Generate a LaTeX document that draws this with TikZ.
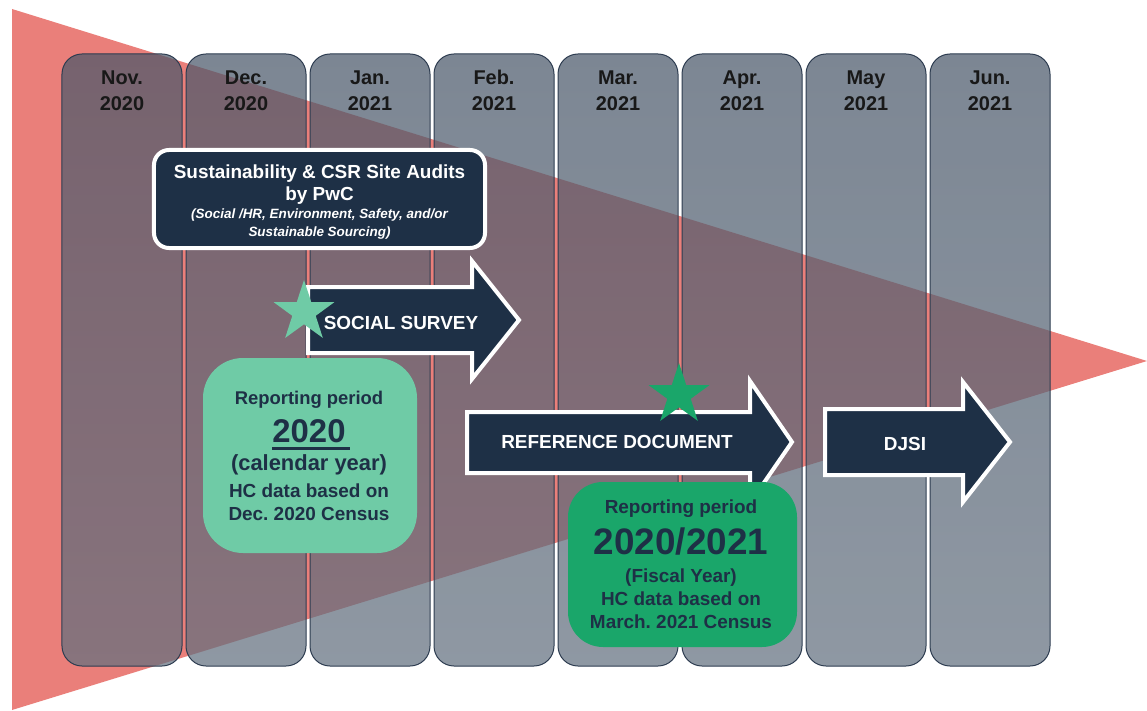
\documentclass[tikz,border=0pt]{standalone}
\usepackage{fontspec}
\setmainfont{Liberation Sans}
\usetikzlibrary{shapes.geometric}
\definecolor{tri}{RGB}{234,127,122}
\definecolor{coltop}{RGB}{74,88,106}
\definecolor{colbot}{RGB}{99,112,127}
\definecolor{colline}{RGB}{45,60,80}
\definecolor{navy}{RGB}{30,48,70}
\definecolor{lgreen}{RGB}{111,203,166}
\definecolor{dgreen}{RGB}{26,166,106}
\definecolor{monthtxt}{RGB}{24,24,24}
\newcommand\myfs[1]{\fontsize{#1}{#1}\selectfont}
\frenchspacing
\begin{document}
\begin{tikzpicture}[x=1bp,y=-1bp,
  colbox/.style={rounded corners=20bp, top color=coltop, bottom color=colbot, fill opacity=0.72, draw=colline, line width=1bp, minimum width=120bp, minimum height=612bp, inner sep=0},
  month/.style={anchor=base, text=monthtxt, font=\bfseries\myfs{20}, inner sep=0},
  darkbox/.style={rounded corners=15bp, fill=navy, draw=white, line width=4bp, inner sep=0},
  arrowbody/.style={fill=navy, draw=white, line width=4bp, line join=miter},
  wtxt/.style={anchor=base, text=white, inner sep=0},
  gtxt/.style={anchor=base, text=navy, inner sep=0},
  greenbox/.style={inner sep=0},
  starmark/.style={star, star points=5, star point ratio=2.6, minimum size=64bp, inner sep=0}
]
\useasboundingbox (0,0) rectangle (1147,711);
% red triangle
\fill[tri] (12,9) -- (12,710) -- (1147,361) -- cycle;
% month columns
\foreach \i/\m/\yr in {0/Nov./2020,1/Dec./2020,2/Jan./2021,3/Feb./2021,4/Mar./2021,5/Apr./2021,6/May/2021,7/Jun./2021}{
  \node[colbox] (c\i) at (122+124*\i,360) {};
  \node[month] (ma\i) at (122+124*\i,85) {\m};
  \node[month] (mb\i) at (122+124*\i,111) {\yr};
}
% audit box
\node[darkbox, minimum width=331bp, minimum height=98bp] (audit) at (319.5,199) {};
\node[wtxt, font=\bfseries\myfs{19}] (au1) at (319.5,179) {Sustainability \& CSR Site Audits};
\node[wtxt, font=\bfseries\myfs{19}] (au2) at (319.5,201) {by PwC};
\node[wtxt, font=\bfseries\itshape\myfs{13.5}] (au3) at (319.5,219) {(Social /HR, Environment, Safety, and/or};
\node[wtxt, font=\bfseries\itshape\myfs{13.5}] (au4) at (319.5,236) {Sustainable Sourcing)};
% social survey arrow
\draw[arrowbody] (308,287) -- (472,287) -- (472,261) -- (519,320) -- (472,379) -- (472,353) -- (308,353) -- cycle;
\node[wtxt, font=\bfseries\myfs{19}] (social) at (401,329) {SOCIAL SURVEY};
\node[starmark, fill=lgreen] (s1) at (304,312) {};
% reference document arrow
\draw[arrowbody] (467,412) -- (750,412) -- (750,381) -- (792,442) -- (750,503) -- (750,473) -- (467,473) -- cycle;
\node[wtxt, font=\bfseries\myfs{19}] (refdoc) at (617,448) {REFERENCE DOCUMENT};
\node[starmark, fill=dgreen] (s2) at (679,395) {};
% DJSI arrow
\draw[arrowbody] (825,409) -- (963,409) -- (963,382) -- (1010,442) -- (963,502) -- (963,475) -- (825,475) -- cycle;
\node[wtxt, font=\bfseries\myfs{19}] (djsi) at (905,450) {DJSI};
% reporting period 2020
\node[greenbox, fill=lgreen, rounded corners=40bp, minimum width=214bp, minimum height=195bp] (g1) at (310,455.5) {};
\node[gtxt, font=\bfseries\myfs{18.5}] (g1a) at (309,404) {Reporting period};
\node[gtxt, font=\bfseries\myfs{33}] (g1b) at (309,442) {2020};
\draw[navy, line width=3bp] (g1b.base west) ++(0,6) -- ++(78,0);
\node[gtxt, font=\bfseries\myfs{22}] (g1c) at (309,470) {(calendar year)};
\node[gtxt, font=\bfseries\myfs{19}] (g1d) at (309,497) {HC data based on};
\node[gtxt, font=\bfseries\myfs{19}] (g1e) at (309,520) {Dec. 2020 Census};
% reporting period 2020/2021
\node[greenbox, fill=dgreen, rounded corners=35bp, minimum width=229bp, minimum height=165bp] (g2) at (682.5,564.5) {};
\node[gtxt, font=\bfseries\myfs{19}] (g2a) at (681,513) {Reporting period};
\node[gtxt, font=\bfseries\myfs{37}] (g2b) at (681,554) {2020/2021};
\node[gtxt, font=\bfseries\myfs{19}] (g2c) at (681,582) {(Fiscal Year)};
\node[gtxt, font=\bfseries\myfs{19}] (g2d) at (681,605) {HC data based on};
\node[gtxt, font=\bfseries\myfs{19}] (g2e) at (681,628) {March. 2021 Census};
\end{tikzpicture}
\end{document}
